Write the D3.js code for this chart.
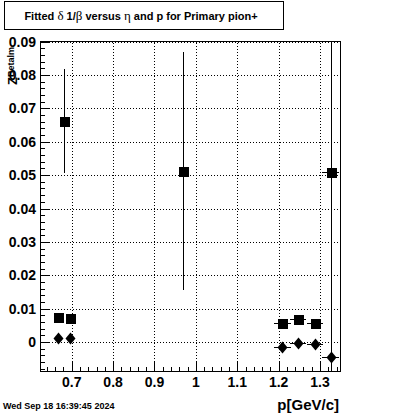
<!DOCTYPE html>
<html>
<head>
<meta charset="utf-8">
<script src="https://cdn.jsdelivr.net/npm/d3@7"></script>
<style>
  body { margin: 0; background: #fff; }
  svg { display: block; font-family: "Liberation Sans", Arial, sans-serif; }
  line, rect { shape-rendering: crispEdges; }
</style>
</head>
<body>
<div id="chart"></div>
<script>
var width = 400, height = 414
var margin = {top: 41, right: 60, bottom: 43, left: 40}

// squares
var sqX = [0.668, 0.682, 0.697, 0.970, 1.209, 1.247, 1.288, 1.326]
var sqY = [0.0074, 0.0662, 0.0071, 0.0513, 0.0056, 0.0068, 0.0056, 0.0508]
var sqEX = [0, 0, 0, 0, 0.02, 0.02, 0.02, 0.02]
var sqEY = [0.0003, 0.0157, 0.0003, 0.0357, 0.0003, 0.0006, 0.0003, 0.09]

// diamonds
var dmX = [0.668, 0.697, 1.209, 1.247, 1.288, 1.326]
var dmY = [0.0011, 0.0011, -0.0016, -0.0004, -0.0007, -0.0046]
var dmEX = [0, 0, 0.02, 0.02, 0.02, 0.02]
var dmEY = [0.0003, 0.0003, 0.0003, 0.0003, 0.0003, 0.0003]

var xTicks = [0.7, 0.8, 0.9, 1, 1.1, 1.2, 1.3]
var yTicks = [0, 0.01, 0.02, 0.03, 0.04, 0.05, 0.06, 0.07, 0.08, 0.09]

var svg = d3.select("#chart")
  .append("svg")
  .attr("width", width)
  .attr("height", height)

var xScale = d3.scaleLinear()
  .domain([0.6234, 1.3483])
  .range([margin.left, width - margin.right])

var yScale = d3.scaleLinear()
  .domain([-0.0087, 0.0902])
  .range([height - margin.bottom, margin.top])

var x0 = margin.left, x1 = width - margin.right
var y0 = height - margin.bottom, y1 = margin.top
var px = v => Math.round(v) + 0.5

// grid
svg.append("g")
  .selectAll("line")
  .data(xTicks)
  .enter()
  .append("line")
  .attr("x1", d => px(xScale(d))).attr("x2", d => px(xScale(d)))
  .attr("y1", y0).attr("y2", y1)
  .attr("stroke", "black").attr("stroke-dasharray", "1,2")

svg.append("g")
  .selectAll("line")
  .data(yTicks)
  .enter()
  .append("line")
  .attr("y1", d => px(yScale(d))).attr("y2", d => px(yScale(d)))
  .attr("x1", x0).attr("x2", x1)
  .attr("stroke", "black").attr("stroke-dasharray", "1,2")

// clip
svg.append("clipPath").attr("id", "frame")
  .append("rect")
  .attr("x", x0).attr("y", y1)
  .attr("width", x1 - x0).attr("height", y0 - y1)

var plot = svg.append("g").attr("clip-path", "url(#frame)")

function drawSeries(xs, ys, exs, eys, shape) {
  var data = xs.map((x, i) => ({x: x, y: ys[i], ex: exs[i], ey: eys[i]}))
  var g = plot.append("g")
  g.selectAll(".ey")
    .data(data)
    .enter()
    .append("line")
    .attr("x1", d => px(xScale(d.x))).attr("x2", d => px(xScale(d.x)))
    .attr("y1", d => yScale(d.y - d.ey)).attr("y2", d => yScale(d.y + d.ey))
    .attr("stroke", "black").attr("stroke-width", 1)
  g.selectAll(".ex")
    .data(data.filter(d => d.ex > 0))
    .enter()
    .append("line")
    .attr("x1", d => xScale(d.x - d.ex)).attr("x2", d => xScale(d.x + d.ex))
    .attr("y1", d => px(yScale(d.y))).attr("y2", d => px(yScale(d.y)))
    .attr("stroke", "black").attr("stroke-width", 1)
  if (shape === "square") {
    g.selectAll("rect")
      .data(data)
      .enter()
      .append("rect")
      .attr("x", d => Math.round(xScale(d.x)) - 4)
      .attr("y", d => Math.round(yScale(d.y)) - 4)
      .attr("width", 10).attr("height", 10)
      .attr("fill", "black")
  } else {
    g.selectAll("path")
      .data(data)
      .enter()
      .append("path")
      .attr("d", d => {
        var cx = Math.round(xScale(d.x)) + 0.5, cy = Math.round(yScale(d.y)) + 0.5
        return `M${cx},${cy - 6}L${cx + 5},${cy}L${cx},${cy + 6}L${cx - 5},${cy}Z`
      })
      .attr("fill", "black")
  }
}

drawSeries(sqX, sqY, sqEX, sqEY, "square")
drawSeries(dmX, dmY, dmEX, dmEY, "diamond")

// frame
svg.append("rect")
  .attr("x", x0 + 0.5).attr("y", y1 + 0.5)
  .attr("width", x1 - x0).attr("height", y0 - y1)
  .attr("fill", "none").attr("stroke", "black").attr("stroke-width", 1)

// x axis ticks
svg.append("g")
  .attr("transform", `translate(0,${y0})`)
  .call(d3.axisTop(xScale).tickValues(d3.range(0.64, 1.341, 0.02)).tickSize(4).tickFormat(''))
  .call(g => g.select(".domain").remove())

svg.append("g")
  .attr("transform", `translate(0,${y0})`)
  .call(d3.axisTop(xScale).tickValues(xTicks).tickSize(9).tickFormat(''))
  .call(g => g.select(".domain").remove())

svg.append("g")
  .selectAll("text")
  .data(xTicks)
  .enter()
  .append("text")
  .attr("x", d => xScale(d))
  .attr("y", 387)
  .attr("text-anchor", "middle")
  .attr("font-size", 14)
  .attr("font-weight", "bold")
  .text(d => d3.format("")(+d.toFixed(1)))

// y axis ticks
svg.append("g")
  .attr("transform", `translate(${x0},0)`)
  .call(d3.axisRight(yScale).tickValues(d3.range(-0.008, 0.0901, 0.002)).tickSize(5).tickFormat(''))
  .call(g => g.select(".domain").remove())

svg.append("g")
  .attr("transform", `translate(${x0},0)`)
  .call(d3.axisRight(yScale).tickValues(yTicks).tickSize(9).tickFormat(''))
  .call(g => g.select(".domain").remove())

svg.append("g")
  .selectAll("text")
  .data(yTicks)
  .enter()
  .append("text")
  .attr("x", 36)
  .attr("y", d => yScale(d) + 5)
  .attr("text-anchor", "end")
  .attr("font-size", 14)
  .attr("font-weight", "bold")
  .text(d => d === 0 ? "0" : d.toFixed(2))

// y title
var yt = svg.append("text")
  .attr("transform", "translate(17,85) rotate(-90)")
  .attr("font-weight", "bold")
  .attr("font-size", 13)
yt.append("tspan").text("Z")
yt.append("tspan").attr("font-size", 9).attr("dy", -3).text("Betalm")

// x title
svg.append("text")
  .attr("x", 339)
  .attr("y", 410)
  .attr("text-anchor", "end")
  .attr("font-size", 15)
  .attr("font-weight", "bold")
  .text("p[GeV/c]")

// title box
svg.append("rect")
  .attr("x", 4.5).attr("y", 1.5)
  .attr("width", 279).attr("height", 28)
  .attr("fill", "white").attr("stroke", "black")

var title = svg.append("text")
  .attr("x", 141)
  .attr("y", 20)
  .attr("text-anchor", "middle")
  .attr("font-size", 11)
  .attr("font-weight", "bold")
title.append("tspan").text("Fitted ")
title.append("tspan").attr("font-family", "Liberation Serif").attr("font-weight", "normal").attr("font-size", 13).text("δ")
title.append("tspan").text(" 1/")
title.append("tspan").attr("font-family", "Liberation Serif").attr("font-weight", "normal").attr("font-size", 13).text("β")
title.append("tspan").text(" versus ")
title.append("tspan").attr("font-family", "Liberation Serif").attr("font-weight", "normal").attr("font-size", 13).text("η")
title.append("tspan").text(" and p for Primary pion+")

// date
svg.append("text")
  .attr("x", 3)
  .attr("y", 409)
  .attr("font-size", 9)
  .attr("font-weight", "bold")
  .text("Wed Sep 18 16:39:45 2024")
</script>
</body>
</html>
